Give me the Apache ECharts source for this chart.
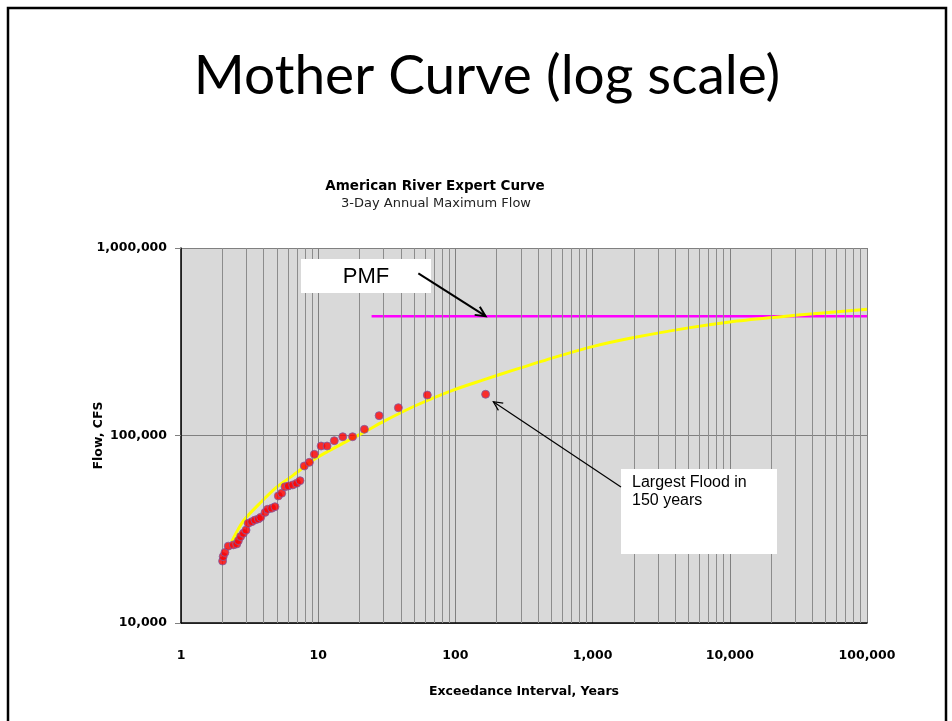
<!DOCTYPE html>
<html><head><meta charset="utf-8">
<script src="https://cdn.jsdelivr.net/npm/echarts@6/dist/echarts.min.js"></script>
<style>html,body{margin:0;padding:0;background:#fff}#c{width:952px;height:721px}</style>
</head><body><div id="c"></div>
<script>
// ---- data ----
const xTickValues = [1, 10, 100, 1000, 10000, 100000];
const xTickLabels = ['1', '10', '100', '1,000', '10,000', '100,000'];
const yTickValues = [10000, 100000, 1000000];
const yTickLabels = ['10,000', '100,000', '1,000,000'];

// observed annual maxima (exceedance interval, years ; flow, cfs)
const obsT = [2.01, 2.03, 2.09, 2.21, 2.41, 2.55, 2.62, 2.72, 2.85, 2.98, 3.09, 3.28, 3.46, 3.66, 3.81, 4.10, 4.28, 4.58, 4.84, 5.12, 5.42, 5.73, 6.06, 6.52, 6.97, 7.37, 7.92, 8.62, 9.37, 10.5, 11.6, 13.1, 15.1, 17.8, 21.7, 27.8, 38.4, 62.4, 166];
const obsQ = [21400, 22600, 23800, 25700, 26100, 26400, 27500, 28900, 30100, 31300, 34000, 34700, 35400, 35900, 36600, 38900, 40400, 40900, 41700, 47600, 49200, 53300, 53800, 54500, 55600, 57400, 68800, 71900, 79400, 87900, 87900, 93800, 98500, 98500, 107900, 127600, 140700, 164400, 165900];

// expert curve
const curveT = [2.34, 2.85, 3.76, 4.98, 6.59, 9.75, 15.2, 22.6, 30, 52, 91, 160, 264, 500, 1000, 2000, 5000, 10000, 20000, 50000, 100000];
const curveQ = [27100, 35000, 43500, 53000, 61500, 76000, 91000, 106000, 119000, 145000, 172000, 198000, 223000, 258000, 298000, 333000, 375000, 403000, 425000, 452000, 471000];

// PMF
const pmfT = [24.5, 100000];
const pmfQ = [433000, 433000];

// minor vertical grid values
const minorX = [];
for (const d of [1, 10, 100, 1000, 10000]) for (let k = 2; k <= 9; k++) minorX.push(k * d);

// annotation arrows (from -> to, in data units)
const pmfArrow = [[53.7, 733000], [166, 433000]];
const floodArrow = [[1610, 53100], [189, 151400]];

const zip = (a, b) => a.map((v, i) => [v, b[i]]);
const fmtX = v => { const i = xTickValues.indexOf(Math.round(v)); return i >= 0 ? xTickLabels[i] : ''; };
const fmtY = v => { const i = yTickValues.indexOf(Math.round(v)); return i >= 0 ? yTickLabels[i] : ''; };

const chart = echarts.init(document.getElementById('c'), null, { renderer: 'canvas' });
const axisFont = { fontFamily: 'DejaVu Sans', fontWeight: 'bold', fontSize: 12.5, color: '#000' };

chart.setOption({
  animation: false,
  grid: { left: 181, right: 85, top: 248, bottom: 98, show: true, backgroundColor: '#d9d9d9', borderWidth: 0 },
  xAxis: {
    type: 'log', logBase: 10, min: 1, max: 100000,
    name: 'Exceedance Interval, Years', nameLocation: 'middle', nameGap: 62, nameMoveOverlap: false,
    nameTextStyle: Object.assign({}, axisFont),
    axisLine: { show: true, onZero: false, lineStyle: { color: '#000', width: 1.5 } },
    axisTick: { show: false },
    axisLabel: Object.assign({ formatter: fmtX, margin: 26, showMinLabel: true, showMaxLabel: true }, axisFont),
    splitLine: { show: true, lineStyle: { color: '#808080', width: 1 } }
  },
  yAxis: {
    type: 'log', logBase: 10, min: 10000, max: 1000000,
    name: 'Flow, CFS', nameLocation: 'middle', nameGap: 76, nameRotate: 90, nameMoveOverlap: false,
    nameTextStyle: Object.assign({}, axisFont),
    axisLine: { show: true, onZero: false, lineStyle: { color: '#000', width: 1.5 } },
    axisTick: { show: true, length: 6, lineStyle: { color: '#808080' } },
    axisLabel: Object.assign({ formatter: fmtY, margin: 14 }, axisFont),
    splitLine: { show: true, lineStyle: { color: '#808080', width: 1 } }
  },
  series: [
    {
      type: 'line', data: [], z: 1, silent: true,
      markLine: {
        silent: true, symbol: ['none', 'none'], label: { show: false },
        lineStyle: { color: '#8c8c8c', width: 1, type: 'solid' },
        emphasis: { disabled: true },
        data: minorX.map(v => ({ xAxis: v }))
      }
    },
    {
      name: 'PMF', type: 'line', data: zip(pmfT, pmfQ), z: 3, showSymbol: false, silent: true,
      lineStyle: { color: '#ff00ff', width: 2.5 }
    },
    {
      name: 'Expert Curve', type: 'line', data: zip(curveT, curveQ), z: 4, smooth: 0.3, showSymbol: false, silent: true,
      lineStyle: { color: '#ffff00', width: 3 }
    },
    {
      name: 'Observed', type: 'scatter', data: zip(obsT, obsQ), z: 5, symbol: 'circle', symbolSize: 8,
      itemStyle: { color: '#ff0000', borderColor: '#7d5fa8', borderWidth: 1 }
    }
  ],
  graphic: [
    { type: 'rect', silent: true, shape: { x: 8, y: 8, width: 938, height: 740 }, style: { fill: 'none', stroke: '#000', lineWidth: 2.5 }, z: 100 },
    { type: 'text', silent: true, x: 487, y: 76, style: { text: 'Mother Curve (log scale)', font: '55px Lato', fill: '#000', textAlign: 'center', textVerticalAlign: 'middle' } },
    { type: 'text', silent: true, x: 435, y: 186, style: { text: 'American River Expert Curve', font: 'bold 13.5px "DejaVu Sans"', fill: '#000', textAlign: 'center', textVerticalAlign: 'middle' } },
    { type: 'text', silent: true, x: 436, y: 204, style: { text: '3-Day Annual Maximum Flow', font: '13px "DejaVu Sans"', fill: '#222', textAlign: 'center', textVerticalAlign: 'middle' } },
    { type: 'rect', silent: true, z: 6, shape: { x: 301, y: 259, width: 130, height: 34 }, style: { fill: '#fff' } },
    { type: 'text', silent: true, z: 7, x: 366, y: 277, style: { text: 'PMF', font: '22px "Liberation Sans"', fill: '#000', textAlign: 'center', textVerticalAlign: 'middle' } },
    { type: 'rect', silent: true, z: 6, shape: { x: 621, y: 469, width: 156, height: 85 }, style: { fill: '#fff' } },
    { type: 'text', silent: true, z: 7, x: 632, y: 474, style: { text: 'Largest Flood in\n150 years', font: '16px "Liberation Sans"', lineHeight: 18, fill: '#000', textAlign: 'left', textVerticalAlign: 'top' } }
  ]
});

// arrows: positioned through the chart's own axes
function arrowEls(pair, width, headLen) {
  const p0 = chart.convertToPixel({ gridIndex: 0 }, pair[0]);
  const p1 = chart.convertToPixel({ gridIndex: 0 }, pair[1]);
  const ang = Math.atan2(p0[1] - p1[1], p0[0] - p1[0]);
  const a = 0.45;
  const h1 = [p1[0] + headLen * Math.cos(ang + a), p1[1] + headLen * Math.sin(ang + a)];
  const h2 = [p1[0] + headLen * Math.cos(ang - a), p1[1] + headLen * Math.sin(ang - a)];
  return [
    { type: 'line', silent: true, z: 20, shape: { x1: p0[0], y1: p0[1], x2: p1[0], y2: p1[1] }, style: { stroke: '#000', lineWidth: width } },
    { type: 'polyline', silent: true, z: 20, shape: { points: [h1, p1, h2] }, style: { stroke: '#000', lineWidth: width, fill: null } }
  ];
}
const extra = [].concat(arrowEls(pmfArrow, 2, 11), arrowEls(floodArrow, 1.2, 10));
chart.setOption({ graphic: extra.map((e, i) => Object.assign({ id: 'arrow' + i }, e)) });
</script>
</body></html>
